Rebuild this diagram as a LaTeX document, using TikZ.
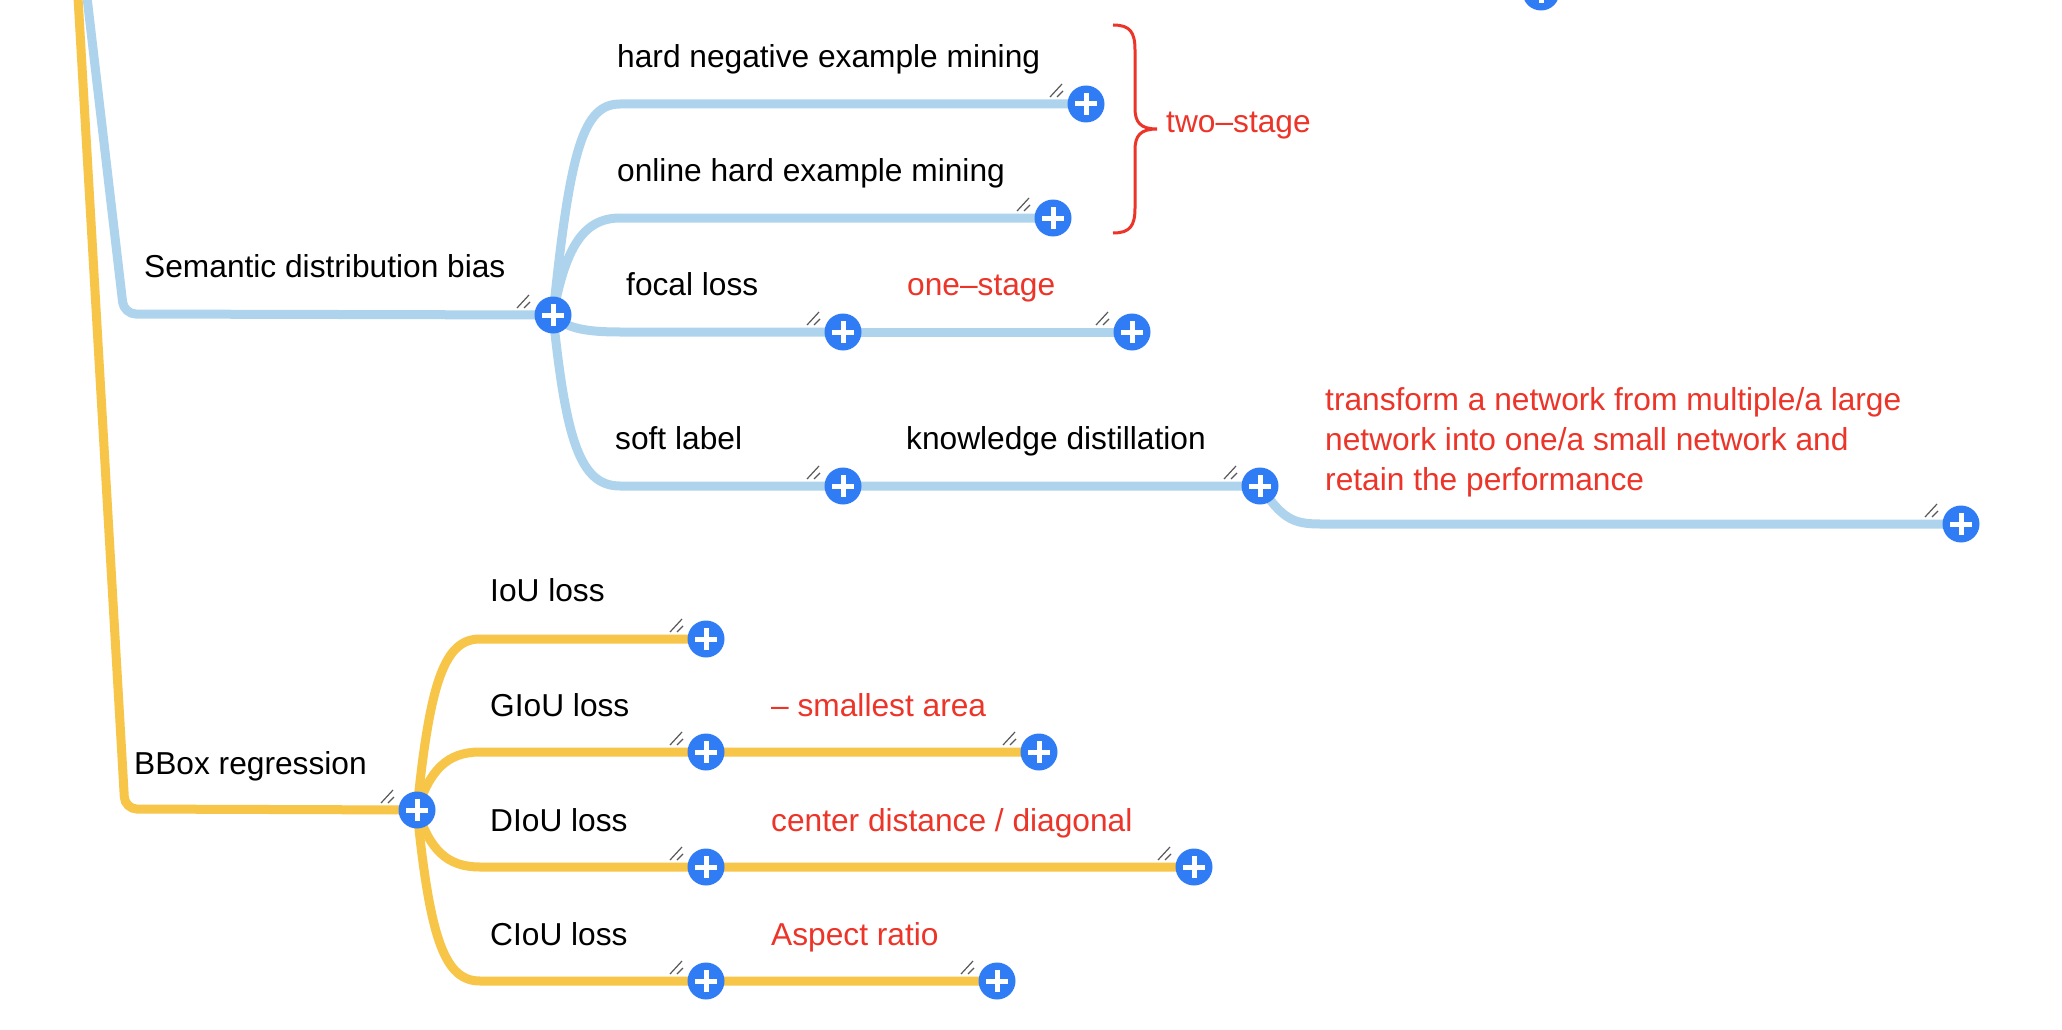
\documentclass[tikz,border=0pt]{standalone}
\usepackage{fontspec}
\setmainfont{Liberation Sans}
\usetikzlibrary{backgrounds}

\definecolor{branchblue}{RGB}{174,211,236}
\definecolor{branchyellow}{RGB}{247,198,72}
\definecolor{plusblue}{RGB}{48,124,245}
\definecolor{notered}{RGB}{236,52,40}

\tikzset{
  expander/.style={circle, fill=plusblue, minimum size=37pt, inner sep=0pt,
    path picture={
      \draw[white, line width=5pt] ([xshift=-11pt]path picture bounding box.center) -- ([xshift=11pt]path picture bounding box.center);
      \draw[white, line width=5pt] ([yshift=-11pt]path picture bounding box.center) -- ([yshift=11pt]path picture bounding box.center);}},
  topic/.style={anchor=base west, inner sep=0pt, font=\fontsize{31.7}{40}\selectfont},
  remark/.style={topic, text=notered},
  blueline/.style={draw=branchblue, line width=9pt},
  yellowline/.style={draw=branchyellow, line width=9pt},
  grip/.style={draw=black!65, line width=1.2pt}
}

\begin{document}
\begin{tikzpicture}[x=1pt, y=-1pt]
    \useasboundingbox (0,0) rectangle (2062,1030);

    % Expand buttons
    \node[expander] (top) at (1541,-8) {};
    \node[expander] (sdb) at (553,315) {};
    \node[expander] (hnm) at (1086,104) {};
    \node[expander] (ohm) at (1053,218) {};
    \node[expander] (fl) at (843,332) {};
    \node[expander] (os) at (1132,332) {};
    \node[expander] (sl) at (843,486) {};
    \node[expander] (kd) at (1260,486) {};
    \node[expander] (kdn) at (1961,524) {};
    \node[expander] (bbr) at (417,810) {};
    \node[expander] (iou) at (706,639) {};
    \node[expander] (giou) at (706,752) {};
    \node[expander] (gioun) at (1039,752) {};
    \node[expander] (diou) at (706,867) {};
    \node[expander] (dioun) at (1194,867) {};
    \node[expander] (ciou) at (706,981) {};
    \node[expander] (cioun) at (997,981) {};

    % Branches, behind the buttons
    \begin{scope}[on background layer]
        \fill[white] (0,0) rectangle (2062,1030);
        \draw[blueline, rounded corners=12pt] (85,-20) -- (124,314) -- (sdb.center);
        \draw[yellowline, rounded corners=12pt] (77,-20) -- (125,809) -- (bbr.center);

        % Semantic distribution bias
        \draw[blueline] (sdb.center) .. controls (570,150) and (583,104) .. (620,104) -- (hnm.center);
        \draw[blueline] (sdb.center) .. controls (565,250) and (582,218) .. (620,218) -- (ohm.center);
        \draw[blueline] (sdb.center) .. controls (565,328) and (585,332) .. (620,332) -- (fl.center);
        \draw[blueline] (fl.center) -- (os.center);
        \draw[blueline] (sdb.center) .. controls (566,440) and (580,486) .. (620,486) -- (sl.center);
        \draw[blueline] (sl.center) -- (kd.center) .. controls (1282,518) and (1292,524) .. (1320,524) -- (kdn.center);

        % BBox regression
        \draw[yellowline] (bbr.center) .. controls (430,680) and (445,639) .. (480,639) -- (iou.center);
        \draw[yellowline] (bbr.center) .. controls (430,770) and (447,752) .. (480,752) -- (giou.center) -- (gioun.center);
        \draw[yellowline] (bbr.center) .. controls (430,850) and (447,867) .. (480,867) -- (diou.center) -- (dioun.center);
        \draw[yellowline] (bbr.center) .. controls (430,940) and (445,981) .. (480,981) -- (ciou.center) -- (cioun.center);
    \end{scope}

    % Grip marks
    \foreach \n in {sdb,hnm,ohm,fl,os,sl,kd,kdn,bbr,iou,giou,gioun,diou,dioun,ciou,cioun} {
        \draw[grip] ([shift={(-36,-7)}]\n.center) -- ++(12,-13);
        \draw[grip] ([shift={(-29,-7)}]\n.center) -- ++(6,-6);
    }

    % Topics
    \node[topic] (sdbt) at (144,277) {Semantic distribution bias};
    \node[topic] (hnmt) at (617,68) {hard negative example mining};
    \node[topic] (ohmt) at (617,182) {online hard example mining};
    \node[topic] (flt) at (626,295) {focal loss};
    \node[topic] (slt) at (615,449) {soft label};
    \node[topic] (kdt) at (906,449) {knowledge distillation};
    \node[topic] (bbrt) at (134,774) {BBox regression};
    \node[topic] (iout) at (490,601) {IoU loss};
    \node[topic] (giout) at (490,716) {GIoU loss};
    \node[topic] (diout) at (490,831) {DIoU loss};
    \node[topic] (ciout) at (490,945) {CIoU loss};

    % Notes
    \node[remark] (ost) at (907,295) {one–stage};
    \node[remark, align=left] (kdnt) at (1325,490) {transform a network from multiple/a large\\network into one/a small network and\\retain the performance};
    \node[remark] (giount) at (771,716) {– smallest area};
    \node[remark] (diount) at (771,831) {center distance / diagonal};
    \node[remark] (ciount) at (771,945) {Aspect ratio};

    % Brace for two-stage
    \draw[notered, line width=3pt] (1113,25) .. controls (1130,25) and (1135,32) .. (1135,50) -- (1135,108)
        .. controls (1135,122) and (1140,129) .. (1157,129)
        .. controls (1140,129) and (1135,136) .. (1135,150) -- (1135,208)
        .. controls (1135,226) and (1130,233) .. (1113,233);
    \node[remark] (tst) at (1166,133) {two–stage};
\end{tikzpicture}
\end{document}
